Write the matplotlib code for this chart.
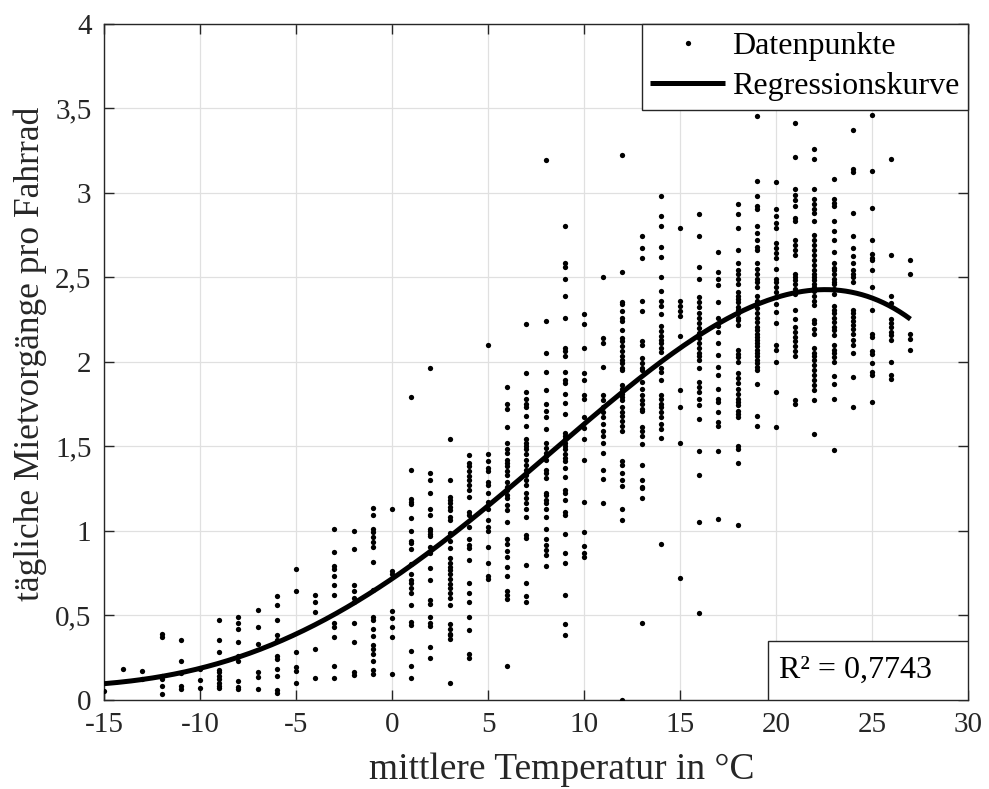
import numpy as np
import matplotlib
matplotlib.use("Agg")
import matplotlib.pyplot as plt
from matplotlib.patches import Rectangle

# ---------------- data ----------------
y_m15 = [0.05]
y_m14 = [0.18]
y_m13 = [0.17, 0.12]
y_m12 = [0.39, 0.37, 0.14, 0.12, 0.08, 0.03]
y_m11 = [0.35, 0.23, 0.155, 0.08, 0.06]
y_m10 = [0.18, 0.115, 0.07]
y_m9 = [0.47, 0.35, 0.28, 0.175, 0.16, 0.14, 0.12, 0.10, 0.08, 0.07]
y_m8 = [0.49, 0.455, 0.42, 0.34, 0.26, 0.23, 0.11, 0.075, 0.06]
y_m7 = [0.53, 0.43, 0.33, 0.16, 0.135, 0.06]
y_m6 = [0.61, 0.56, 0.47, 0.38, 0.35, 0.26, 0.24, 0.18, 0.14, 0.055, 0.04]
y_m5 = [0.77, 0.64, 0.28, 0.195, 0.17, 0.10]
y_m4 = [0.62, 0.58, 0.52, 0.30, 0.125]
y_m3 = [1.01, 0.875, 0.79, 0.77, 0.73, 0.68, 0.62, 0.45, 0.43, 0.37, 0.20, 0.13]
y_m2 = [1.0, 0.89, 0.68, 0.64, 0.60, 0.58, 0.45, 0.34, 0.165, 0.145]
y_m1 = [1.135, 1.09, 1.01, 0.99, 0.96, 0.93, 0.90, 0.815, 0.65, 0.49, 0.47,
        0.42, 0.375, 0.32, 0.30, 0.27, 0.23, 0.175, 0.15]
y_0 = [1.13, 0.76, 0.74, 0.525, 0.48, 0.43, 0.37, 0.15]
y_1 = [1.79, 1.36, 1.185, 1.17, 1.155, 1.075, 1.0, 0.94, 0.925, 0.89, 0.80,
       0.74, 0.71, 0.69, 0.66, 0.63, 0.56, 0.46, 0.44, 0.29, 0.20, 0.125]
y_2 = [1.96, 1.34, 1.30, 1.22, 1.125, 1.09, 1.01, 0.995, 0.98, 0.965, 0.90,
       0.865, 0.78, 0.71, 0.59, 0.565, 0.49, 0.45, 0.435, 0.31, 0.245]
y_3 = [1.54, 1.30, 1.20, 1.18, 1.16, 1.14, 1.12, 1.08, 1.06, 0.985, 0.94,
       0.895, 0.835, 0.805, 0.785, 0.765, 0.74, 0.715, 0.685, 0.66, 0.63,
       0.60, 0.56, 0.445, 0.42, 0.39, 0.38, 0.36, 0.10]
y_4 = [1.445, 1.40, 1.38, 1.35, 1.32, 1.30, 1.27, 1.24, 1.20, 1.11, 1.09,
       1.02, 0.95, 0.915, 0.895, 0.825, 0.69, 0.63, 0.575, 0.49, 0.41, 0.27,
       0.245]
y_5 = [2.10, 1.45, 1.41, 1.37, 1.35, 1.29, 1.27, 1.22, 1.17, 1.13, 1.06,
       1.02, 1.0, 0.90, 0.81, 0.73, 0.715]
y_6 = [1.85, 1.75, 1.72, 1.61, 1.52, 1.48, 1.46, 1.42, 1.40, 1.38, 1.35,
       1.33, 1.29, 1.26, 1.24, 1.21, 1.19, 1.15, 1.12, 1.05, 0.95, 0.92,
       0.88, 0.845, 0.785, 0.73, 0.645, 0.62, 0.595, 0.20]
y_7 = [2.22, 1.93, 1.82, 1.78, 1.75, 1.73, 1.68, 1.62, 1.54, 1.52, 1.50,
       1.48, 1.45, 1.42, 1.39, 1.36, 1.33, 1.30, 1.27, 1.22, 1.19, 1.16,
       1.13, 1.08, 0.975, 0.955, 0.795, 0.69, 0.61, 0.58]
y_8 = [3.19, 2.24, 2.05, 1.94, 1.83, 1.75, 1.71, 1.67, 1.60, 1.52, 1.49,
       1.46, 1.44, 1.42, 1.36, 1.34, 1.31, 1.22, 1.21, 1.18, 1.16, 1.13,
       1.08, 1.01, 0.95, 0.915, 0.885, 0.855, 0.79]
y_9 = [2.80, 2.58, 2.56, 2.49, 2.39, 2.26, 2.08, 2.06, 2.03, 1.94, 1.89,
       1.87, 1.81, 1.755, 1.69, 1.58, 1.56, 1.54, 1.515, 1.50, 1.48, 1.455,
       1.43, 1.41, 1.37, 1.315, 1.24, 1.22, 1.18, 1.11, 1.09, 0.98, 0.865,
       0.81, 0.62, 0.445, 0.38]
y_10 = [2.28, 2.22, 2.08, 1.93, 1.89, 1.80, 1.78, 1.67, 1.605, 1.54, 1.42,
        1.17, 0.99, 0.91, 0.865, 0.845]
y_11 = [2.50, 2.14, 2.11, 1.97, 1.80, 1.77, 1.73, 1.70, 1.67, 1.63, 1.59,
        1.56, 1.52, 1.46, 1.36, 1.305, 1.16]
y_12 = [3.22, 2.53, 2.35, 2.34, 2.30, 2.26, 2.24, 2.185, 2.14, 2.12, 2.09,
        2.06, 2.03, 2.01, 1.99, 1.96, 1.95, 1.86, 1.84, 1.81, 1.79, 1.77,
        1.73, 1.70, 1.68, 1.65, 1.62, 1.59, 1.41, 1.39, 1.34, 1.30, 1.265,
        1.13, 1.06, 0.0]
y_13 = [2.74, 2.67, 2.61, 2.36, 2.30, 2.12, 2.10, 2.02, 1.99, 1.96, 1.95,
        1.88, 1.84, 1.80, 1.77, 1.75, 1.72, 1.71, 1.61, 1.59, 1.56, 1.51,
        1.39, 1.30, 1.26, 1.25, 1.195, 0.45]
y_14 = [2.98, 2.86, 2.80, 2.68, 2.62, 2.50, 2.42, 2.36, 2.33, 2.28, 2.21,
        2.18, 2.15, 2.13, 2.11, 2.08, 2.055, 1.96, 1.94, 1.89, 1.80, 1.78,
        1.75, 1.73, 1.70, 1.67, 1.63, 1.60, 1.55, 0.92]
y_15 = [2.79, 2.36, 2.33, 2.30, 2.27, 2.15, 1.83, 1.73, 1.52, 0.72]
y_16 = [2.87, 2.74, 2.56, 2.49, 2.38, 2.35, 2.32, 2.29, 2.26, 2.23, 2.20,
        2.17, 2.14, 2.11, 2.08, 2.05, 2.03, 2.01, 1.96, 1.88, 1.85, 1.82,
        1.78, 1.74, 1.66, 1.47, 1.33, 1.05, 0.51]
y_17 = [2.65, 2.53, 2.49, 2.45, 2.35, 2.26, 2.21, 2.175, 2.11, 2.04, 1.97,
        1.92, 1.84, 1.78, 1.76, 1.70, 1.64, 1.62, 1.47, 1.07]
y_18 = [2.93, 2.87, 2.79, 2.66, 2.585, 2.54, 2.52, 2.49, 2.46, 2.41, 2.39,
        2.37, 2.355, 2.325, 2.305, 2.285, 2.26, 2.245, 2.215, 2.07, 2.045,
        2.025, 2.0, 1.93, 1.90, 1.87, 1.84, 1.81, 1.78, 1.76, 1.74, 1.71,
        1.69, 1.67, 1.50, 1.48, 1.40, 1.03]
y_19 = [3.45, 3.07, 2.98, 2.92, 2.90, 2.80, 2.76, 2.72, 2.68, 2.66, 2.585,
        2.55, 2.52, 2.49, 2.47, 2.44, 2.39, 2.36, 2.345, 2.315, 2.285, 2.26,
        2.235, 2.205, 2.185, 2.165, 2.145, 2.13, 2.11, 2.09, 2.07, 2.05, 2.03,
        2.01, 1.99, 1.97, 1.95, 1.865, 1.68, 1.62]
y_20 = [3.06, 2.90, 2.86, 2.82, 2.79, 2.70, 2.67, 2.64, 2.61, 2.55, 2.49,
        2.47, 2.44, 2.41, 2.38, 2.34, 2.295, 2.225, 2.10, 2.07, 2.0, 1.82,
        1.61]
y_21 = [3.41, 3.21, 3.02, 2.985, 2.955, 2.92, 2.85, 2.83, 2.72, 2.69, 2.66,
        2.63, 2.52, 2.50, 2.48, 2.46, 2.43, 2.40, 2.305, 2.25, 2.205, 2.175,
        2.145, 2.12, 2.09, 2.06, 2.03, 1.77, 1.75]
y_22 = [3.26, 3.20, 3.02, 2.96, 2.935, 2.905, 2.88, 2.83, 2.75, 2.72, 2.69,
        2.66, 2.63, 2.60, 2.57, 2.54, 2.52, 2.50, 2.48, 2.46, 2.44, 2.42,
        2.39, 2.36, 2.335, 2.245, 2.225, 2.195, 2.165, 2.08, 2.05, 2.03,
        2.01, 1.98, 1.95, 1.92, 1.89, 1.86, 1.83, 1.775, 1.57]
y_23 = [3.08, 2.96, 2.94, 2.92, 2.83, 2.77, 2.72, 2.65, 2.585, 2.555, 2.54,
        2.52, 2.49, 2.47, 2.46, 2.43, 2.40, 2.33, 2.305, 2.285, 2.26, 2.235,
        2.205, 2.185, 2.155, 2.10, 2.07, 2.05, 2.025, 2.0, 1.915, 1.865,
        1.78, 1.475]
y_24 = [3.37, 3.14, 3.12, 2.88, 2.74, 2.67, 2.625, 2.58, 2.54, 2.52, 2.50,
        2.47, 2.305, 2.285, 2.265, 2.24, 2.215, 2.19, 2.165, 2.13, 2.10,
        2.05, 1.91, 1.73]
y_25 = [3.46, 3.13, 2.91, 2.72, 2.635, 2.61, 2.60, 2.54, 2.44, 2.305, 2.165,
        2.145, 2.065, 2.045, 1.99, 1.94, 1.92, 1.76]
y_26 = [3.20, 2.63, 2.385, 2.345, 2.25, 2.225, 2.205, 2.175, 2.155, 2.125,
        1.995, 1.92, 1.895]
y_27 = [2.60, 2.52, 2.165, 2.135, 2.07]

columns = {
    -15: y_m15, -14: y_m14, -13: y_m13, -12: y_m12, -11: y_m11, -10: y_m10,
    -9: y_m9, -8: y_m8, -7: y_m7, -6: y_m6, -5: y_m5, -4: y_m4, -3: y_m3,
    -2: y_m2, -1: y_m1, 0: y_0, 1: y_1, 2: y_2, 3: y_3, 4: y_4, 5: y_5,
    6: y_6, 7: y_7, 8: y_8, 9: y_9, 10: y_10, 11: y_11, 12: y_12, 13: y_13,
    14: y_14, 15: y_15, 16: y_16, 17: y_17, 18: y_18, 19: y_19, 20: y_20,
    21: y_21, 22: y_22, 23: y_23, 24: y_24, 25: y_25, 26: y_26, 27: y_27,
}

# regression curve values
curve_T = [-15, -10, -6, -5, 0, 5, 8, 9, 10, 12, 13, 15, 18, 20, 22, 23, 25, 26, 27]
curve_V = [0.096, 0.17, 0.352, 0.39, 0.727, 1.14, 1.40, 1.50, 1.605, 1.86,
           1.98, 2.09, 2.263, 2.364, 2.41, 2.415, 2.39, 2.334, 2.246]

x_ticks = [-15, -10, -5, 0, 5, 10, 15, 20, 25, 30]
x_ticklabels = ["-15", "-10", "-5", "0", "5", "10", "15", "20", "25", "30"]
y_ticks = [0, 0.5, 1, 1.5, 2, 2.5, 3, 3.5, 4]
y_ticklabels = ["0", "0,5", "1", "1,5", "2", "2,5", "3", "3,5", "4"]

x_label = "mittlere Temperatur in °C"
y_label = "tägliche Mietvorgänge pro Fahrrad"
legend_labels = ["Datenpunkte", "Regressionskurve"]
r2_text = "R² = 0,7743"

# ---------------- plotting ----------------
plt.rcParams["font.family"] = ["Liberation Serif", "DejaVu Serif"]
plt.rcParams["axes.unicode_minus"] = False

fig = plt.figure(figsize=(9.89, 7.89), dpi=100)
ax = fig.add_axes([0.1052, 0.1134, 0.8736, 0.8568])

xs, ys = [], []
for t, vals in columns.items():
    xs.extend([t] * len(vals))
    ys.extend(vals)

axis_col = "#262626"

ax.grid(True, color="#e0e0e0", linewidth=0.9)
ax.set_axisbelow(True)

pts, = ax.plot(xs, ys, linestyle="none", marker="o", markersize=3.8,
               markerfacecolor="black", markeredgewidth=0, color="black",
               label=legend_labels[0], zorder=3)

coef = np.polyfit(curve_T, curve_V, 4)
tt = np.linspace(min(curve_T), max(curve_T), 300)
line, = ax.plot(tt, np.polyval(coef, tt), color="black", linewidth=3.6,
                label=legend_labels[1], zorder=4, solid_capstyle="butt")

ax.set_xlim(-15, 30)
ax.set_ylim(0, 4)
ax.set_xticks(x_ticks)
ax.set_xticklabels(x_ticklabels)
ax.set_yticks(y_ticks)
ax.set_yticklabels(y_ticklabels)

ax.tick_params(direction="in", length=7, width=1.0, colors=axis_col,
               labelsize=21, top=True, right=True)
ax.tick_params(axis="x", pad=9)
ax.tick_params(axis="y", pad=9)
for sp in ax.spines.values():
    sp.set_color(axis_col)
    sp.set_linewidth(1.0)

ax.set_xlabel(x_label, fontsize=27, color=axis_col)
ax.xaxis.set_label_coords(0.530, -0.079)
ax.set_ylabel(y_label, fontsize=25.5, color=axis_col)
ax.yaxis.set_label_coords(-0.066, 0.511)

leg = ax.legend(handles=[pts, line], loc="upper right", fontsize=23,
                frameon=True, fancybox=False, framealpha=1,
                edgecolor=axis_col, borderaxespad=0, borderpad=0.26,
                labelspacing=0.34, handlelength=2.35, handletextpad=0.22,
                markerscale=1.0)
leg.get_frame().set_linewidth(1.0)

# R² box in the lower right corner
ax.add_patch(Rectangle((0.7685, 0.0), 0.2315, 0.0873, transform=ax.transAxes,
                       facecolor="white", edgecolor=axis_col, linewidth=1.0,
                       zorder=5))
ax.text(0.7685 + 0.013, 0.0873 / 2, r2_text, transform=ax.transAxes,
        fontsize=23, ha="left", va="center", color="black", zorder=6)

fig.savefig("out.png", dpi=100)
